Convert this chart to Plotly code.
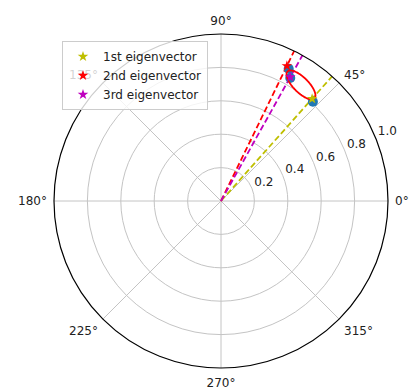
import numpy as np
import plotly.graph_objects as go

# ---- data ----
eig_names = ["1st eigenvector", "2nd eigenvector", "3rd eigenvector"]
eig_colors = ["#bfbf00", "#ff0000", "#bf00bf"]
eig_theta = [48.3, 64.0, 60.8]      # degrees
eig_r = [0.82, 0.90, 0.85]
dot_theta = [47.2, 62.9, 60.6]
dot_r = [0.81, 0.89, 0.845]
line_r = [0.0, 1.0]

# ellipse (in cartesian data units)
ell_cx, ell_cy = 0.479, 0.695
ell_a, ell_b = 0.114, 0.045
ell_angle = -45.0

r_ticks = [0.2, 0.4, 0.6, 0.8, 1.0]
theta_ticks = [0, 45, 90, 135, 180, 225, 270, 315]
theta_labels = [f"{t}°" for t in theta_ticks]

fig = go.Figure()

# dashed direction lines
for name, col, th in zip(eig_names, eig_colors, eig_theta):
    fig.add_trace(go.Scatterpolar(
        r=line_r, theta=[th, th], mode="lines",
        line=dict(color=col, width=1.8, dash="6px,3px"),
        showlegend=False, hoverinfo="skip"))

# blue dots
fig.add_trace(go.Scatterpolar(
    r=dot_r, theta=dot_theta, mode="markers",
    marker=dict(color="#1f77b4", size=10, line=dict(width=0)),
    showlegend=False))

# ellipse
t = np.linspace(0, 2 * np.pi, 200)
ang = np.deg2rad(ell_angle)
ex = ell_cx + ell_a * np.cos(t) * np.cos(ang) - ell_b * np.sin(t) * np.sin(ang)
ey = ell_cy + ell_a * np.cos(t) * np.sin(ang) + ell_b * np.sin(t) * np.cos(ang)
fig.add_trace(go.Scatterpolar(
    r=np.hypot(ex, ey), theta=np.rad2deg(np.arctan2(ey, ex)), mode="lines",
    line=dict(color="#ff0000", width=1.8), showlegend=False, hoverinfo="skip"))

# stars (legend entries)
for name, col, th, rr in zip(eig_names, eig_colors, eig_theta, eig_r):
    fig.add_trace(go.Scatterpolar(
        r=[rr], theta=[th], mode="markers", name=name,
        marker=dict(color=col, symbol="star", size=8, line=dict(width=0))))

# helper overlay subplot that only carries the radial tick labels
fig.add_trace(go.Scatterpolar(r=[], theta=[], subplot="polar2",
                              showlegend=False, hoverinfo="skip"))

font = dict(family="DejaVu Sans", size=12, color="#222222")
dom_x = [54 / 410, 388 / 410]
dom_y = [24 / 392, 358 / 392]
shift = 14 / 392
fig.update_layout(
    width=410, height=392,
    margin=dict(l=0, r=0, t=0, b=0),
    paper_bgcolor="white",
    font=font,
    polar=dict(
        domain=dict(x=dom_x, y=dom_y),
        bgcolor="white",
        radialaxis=dict(
            range=[0, 1.0], tickmode="array", tickvals=r_ticks,
            showticklabels=False, angle=22.5, showline=False,
            gridcolor="#c4c4c4", gridwidth=1, ticks=""),
        angularaxis=dict(
            rotation=0, direction="counterclockwise",
            tickmode="array", tickvals=theta_ticks, ticktext=theta_labels,
            showline=True, linecolor="black", linewidth=1.2,
            gridcolor="#c4c4c4", gridwidth=1,
            ticks="outside", ticklen=4, tickcolor="rgba(0,0,0,0)",
            tickfont=font),
    ),
    polar2=dict(
        domain=dict(x=dom_x, y=[dom_y[0] + shift, dom_y[1] + shift]),
        bgcolor="rgba(0,0,0,0)",
        radialaxis=dict(
            range=[0, 1.0], tickmode="array", tickvals=r_ticks,
            ticktext=[f"{v:.1f}" for v in r_ticks],
            angle=22.5, tickangle=22.5, side="clockwise",
            showline=False, showgrid=False,
            ticks="inside", ticklen=1, tickcolor="rgba(0,0,0,0)",
            tickfont=font),
        angularaxis=dict(
            rotation=0, direction="counterclockwise",
            showline=False, showgrid=False, showticklabels=False, ticks=""),
    ),
    legend=dict(
        x=62 / 410, y=1 - 41 / 392, xanchor="left", yanchor="top",
        bgcolor="rgba(255,255,255,0.8)", bordercolor="#cccccc", borderwidth=1,
        font=font, itemwidth=30, tracegroupgap=0),
)

fig.write_html("out.html")
